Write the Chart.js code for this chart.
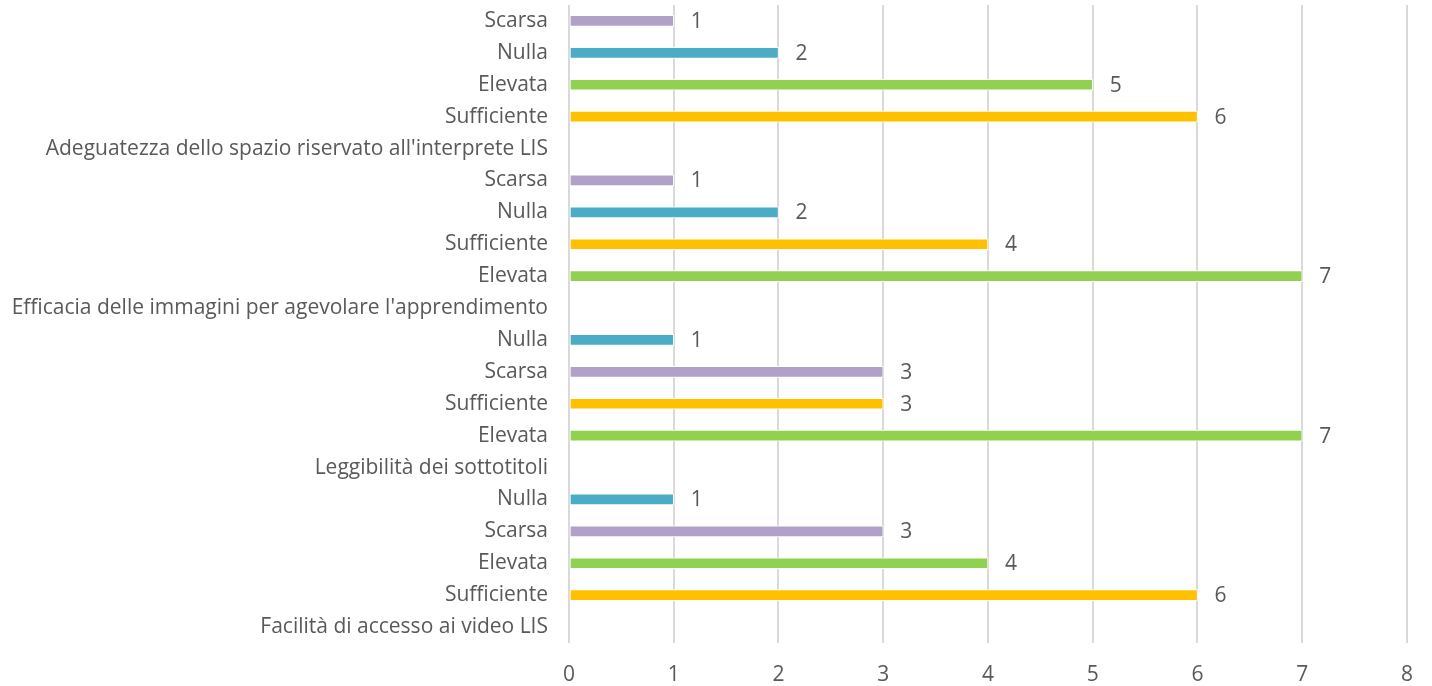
<!DOCTYPE html>
<html>
<head>
<meta charset="utf-8">
<script src="https://cdn.jsdelivr.net/npm/chart.js@4/dist/chart.umd.min.js"></script>
<style>
html,body{margin:0;padding:0;background:#fff;}
canvas{display:block;}
</style>
</head>
<body>
<canvas id="c" width="1432" height="686"></canvas>
<script>
const categories = [
  "Scarsa", "Nulla", "Elevata", "Sufficiente",
  "Adeguatezza dello spazio riservato all'interprete LIS",
  "Scarsa", "Nulla", "Sufficiente", "Elevata",
  "Efficacia delle immagini per agevolare l'apprendimento",
  "Nulla", "Scarsa", "Sufficiente", "Elevata",
  "Leggibilità dei sottotitoli",
  "Nulla", "Scarsa", "Elevata", "Sufficiente",
  "Facilità di accesso ai video LIS"
];
const values = [
  1, 2, 5, 6, null,
  1, 2, 4, 7, null,
  1, 3, 3, 7, null,
  1, 3, 4, 6, null
];
const xTicks = [0, 1, 2, 3, 4, 5, 6, 7, 8];

const colorFor = {
  "Scarsa": "#B1A0C7",
  "Nulla": "#4BACC6",
  "Elevata": "#92D050",
  "Sufficiente": "#FFC000"
};
const barColors = categories.map(c => colorFor[c] || "#ffffff");
const FONT = "'Open Sans', sans-serif";
const FS = 21;
const TXT = "#595959";

const labelPlugin = {
  id: 'valueLabels',
  afterDatasetsDraw(chart) {
    const ctx = chart.ctx;
    const meta = chart.getDatasetMeta(0);
    ctx.save();
    ctx.font = FS + "px " + FONT;
    ctx.fillStyle = TXT;
    ctx.textAlign = 'left';
    ctx.textBaseline = 'middle';
    meta.data.forEach((el, i) => {
      const v = values[i];
      if (v === null || v === undefined) return;
      ctx.fillText(String(v), el.x + 17, el.y + 1);
    });
    ctx.restore();
  }
};

new Chart(document.getElementById('c'), {
  type: 'bar',
  data: {
    labels: categories,
    datasets: [{
      data: values,
      backgroundColor: barColors,
      borderColor: '#ffffff',
      borderWidth: 1,
      borderSkipped: false,
      barThickness: 11
    }]
  },
  options: {
    indexAxis: 'y',
    responsive: false,
    animation: false,
    layout: { padding: { top: 5, right: 24, bottom: 1, left: 0 } },
    plugins: { legend: { display: false }, tooltip: { enabled: false } },
    scales: {
      x: {
        min: 0, max: 8,
        afterBuildTicks(axis) { axis.ticks = xTicks.map(v => ({ value: v })); },
        afterFit(scale) { scale.height = 42; },
        grid: { color: '#d9d9d9', lineWidth: 2, drawTicks: false },
        border: { display: false },
        ticks: { color: TXT, font: { family: FONT, size: FS }, padding: 19 }
      },
      y: {
        afterFit(scale) { scale.width = 569; scale.paddingTop = 0; scale.paddingBottom = 0; },
        grid: { display: false, drawTicks: false },
        border: { display: false },
        ticks: { color: TXT, font: { family: FONT, size: FS }, padding: 21, autoSkip: false }
      }
    }
  },
  plugins: [labelPlugin]
});
</script>
</body>
</html>
